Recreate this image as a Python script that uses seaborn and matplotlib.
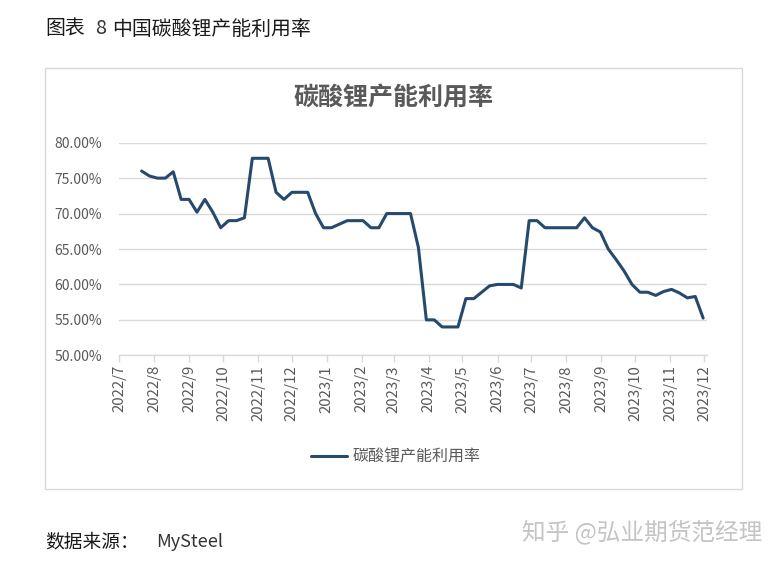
import matplotlib
matplotlib.use("Agg")
import matplotlib.pyplot as plt
import matplotlib.patches as mpatches
import seaborn as sns
import pandas as pd
import numpy as np

# ---- data ----
first_week = "2022-07-21"   # weekly (Thursday) observations
n_weeks = 72
utilization = [
    76.0, 75.3, 75.0, 75.0, 75.9, 72.0, 72.0, 70.2, 72.0, 70.2,
    68.0, 69.0, 69.0, 69.4, 77.8, 77.8, 77.8, 73.0, 72.0, 73.0,
    73.0, 73.0, 70.0, 68.0, 68.0, 68.5, 69.0, 69.0, 69.0, 68.0,
    68.0, 70.0, 70.0, 70.0, 70.0, 65.2, 55.0, 55.0, 54.0, 54.0,
    54.0, 58.0, 58.0, 58.9, 59.8, 60.0, 60.0, 60.0, 59.5, 69.0,
    69.0, 68.0, 68.0, 68.0, 68.0, 68.0, 69.4, 68.0, 67.4, 65.0,
    63.5, 61.9, 60.0, 58.9, 58.9, 58.45, 59.0, 59.3, 58.8, 58.1,
    58.3, 55.25,
]
month_ticks = ["2022-07-01", "2022-08-01", "2022-09-01", "2022-10-01", "2022-11-01",
               "2022-12-01", "2023-01-01", "2023-02-01", "2023-03-01", "2023-04-01",
               "2023-05-01", "2023-06-01", "2023-07-01", "2023-08-01", "2023-09-01",
               "2023-10-01", "2023-11-01", "2023-12-01"]
month_labels = ["2022/7", "2022/8", "2022/9", "2022/10", "2022/11", "2022/12",
                "2023/1", "2023/2", "2023/3", "2023/4", "2023/5", "2023/6",
                "2023/7", "2023/8", "2023/9", "2023/10", "2023/11", "2023/12"]
y_ticks = [50, 55, 60, 65, 70, 75, 80]
series_name = "碳酸锂产能利用率"

dates = pd.date_range(first_week, periods=n_weeks, freq="7D")
df = pd.DataFrame({"date": dates, "value": utilization})

sns.set_theme(style="white")
plt.rcParams["font.family"] = ["Noto Sans CJK SC", "DejaVu Sans"]

W, H = 783, 563
fig = plt.figure(figsize=(W / 100, H / 100), dpi=100)
fig.patch.set_facecolor("white")

# outer frame
fig.add_artist(mpatches.Rectangle((45 / W, 1 - 489 / H), (742 - 45) / W, (489 - 68) / H,
                                  transform=fig.transFigure, fill=False,
                                  edgecolor="#d9d9d9", linewidth=1.0))

left, right = 119 / W, 707.3 / W
top_px, bot_px = 142.7, 355.3
ax = fig.add_axes([left, 1 - bot_px / H, right - left, (bot_px - top_px) / H])

line_color = "#254a6e"
sns.lineplot(data=df, x="date", y="value", ax=ax, color=line_color, linewidth=2.2,
             label=series_name, legend=False)

ax.set_ylim(50, 80)
ax.set_xlim(pd.Timestamp("2022-07-01"), pd.Timestamp("2023-12-03 16:00"))
ax.set_yticks(y_ticks)
ax.set_yticklabels([f"{v:.2f}%" for v in y_ticks])
ax.set_xticks(pd.to_datetime(month_ticks))
ax.set_xticklabels(month_labels, rotation=90)
ax.set_xlabel("")
ax.set_ylabel("")

ax.yaxis.grid(True, color="#d9d9d9", linewidth=1.0)
ax.xaxis.grid(False)
for s in ["top", "right", "left"]:
    ax.spines[s].set_visible(False)
ax.spines["bottom"].set_color("#d9d9d9")
ax.spines["bottom"].set_linewidth(1.0)
ax.tick_params(axis="y", length=0, pad=12, labelsize=10, labelcolor="#595959")
ax.tick_params(axis="x", length=5, width=1, color="#d9d9d9", direction="out",
               pad=2, labelsize=10.8, labelcolor="#595959", bottom=True)
ax.set_axisbelow(True)

# chart title
fig.text(393 / W, 1 - 98.5 / H, series_name, ha="center", va="center",
         fontsize=18, color="#595959", fontweight="bold")

# legend
handle = plt.Line2D([], [], color=line_color, linewidth=2.2)
fig.legend([handle], [series_name], loc="center",
           bbox_to_anchor=(395.5 / W, 1 - 457 / H), frameon=False,
           fontsize=11.5, handlelength=2.3, handletextpad=0.3,
           labelcolor="#595959")

# header
fig.text(45 / W, 1 - 29 / H, "图表", ha="left", va="center", fontsize=14.3,
         color="#1a1a1a", fontweight="medium")
fig.text(95 / W, 1 - 29 / H, "8", ha="left", va="center", fontsize=14.3,
         color="#333333", fontweight="light")
fig.text(112 / W, 1 - 29 / H, "中国碳酸锂产能利用率", ha="left", va="center",
         fontsize=14.3, color="#1a1a1a", fontweight="medium")

# footer
fig.text(45 / W, 1 - 542 / H, "数据来源：", ha="left", va="center", fontsize=13.5,
         color="#1a1a1a", fontweight="medium")
fig.text(156 / W, 1 - 542 / H, "MySteel", ha="left", va="center", fontsize=13,
         color="#333333", fontweight="light")

# watermark
fig.text(522 / W, 1 - 532 / H, "知乎 @弘业期货范经理", ha="left", va="center",
         fontsize=17, color="#c4c4c4")

fig.savefig("out.png", dpi=100, facecolor="white")
